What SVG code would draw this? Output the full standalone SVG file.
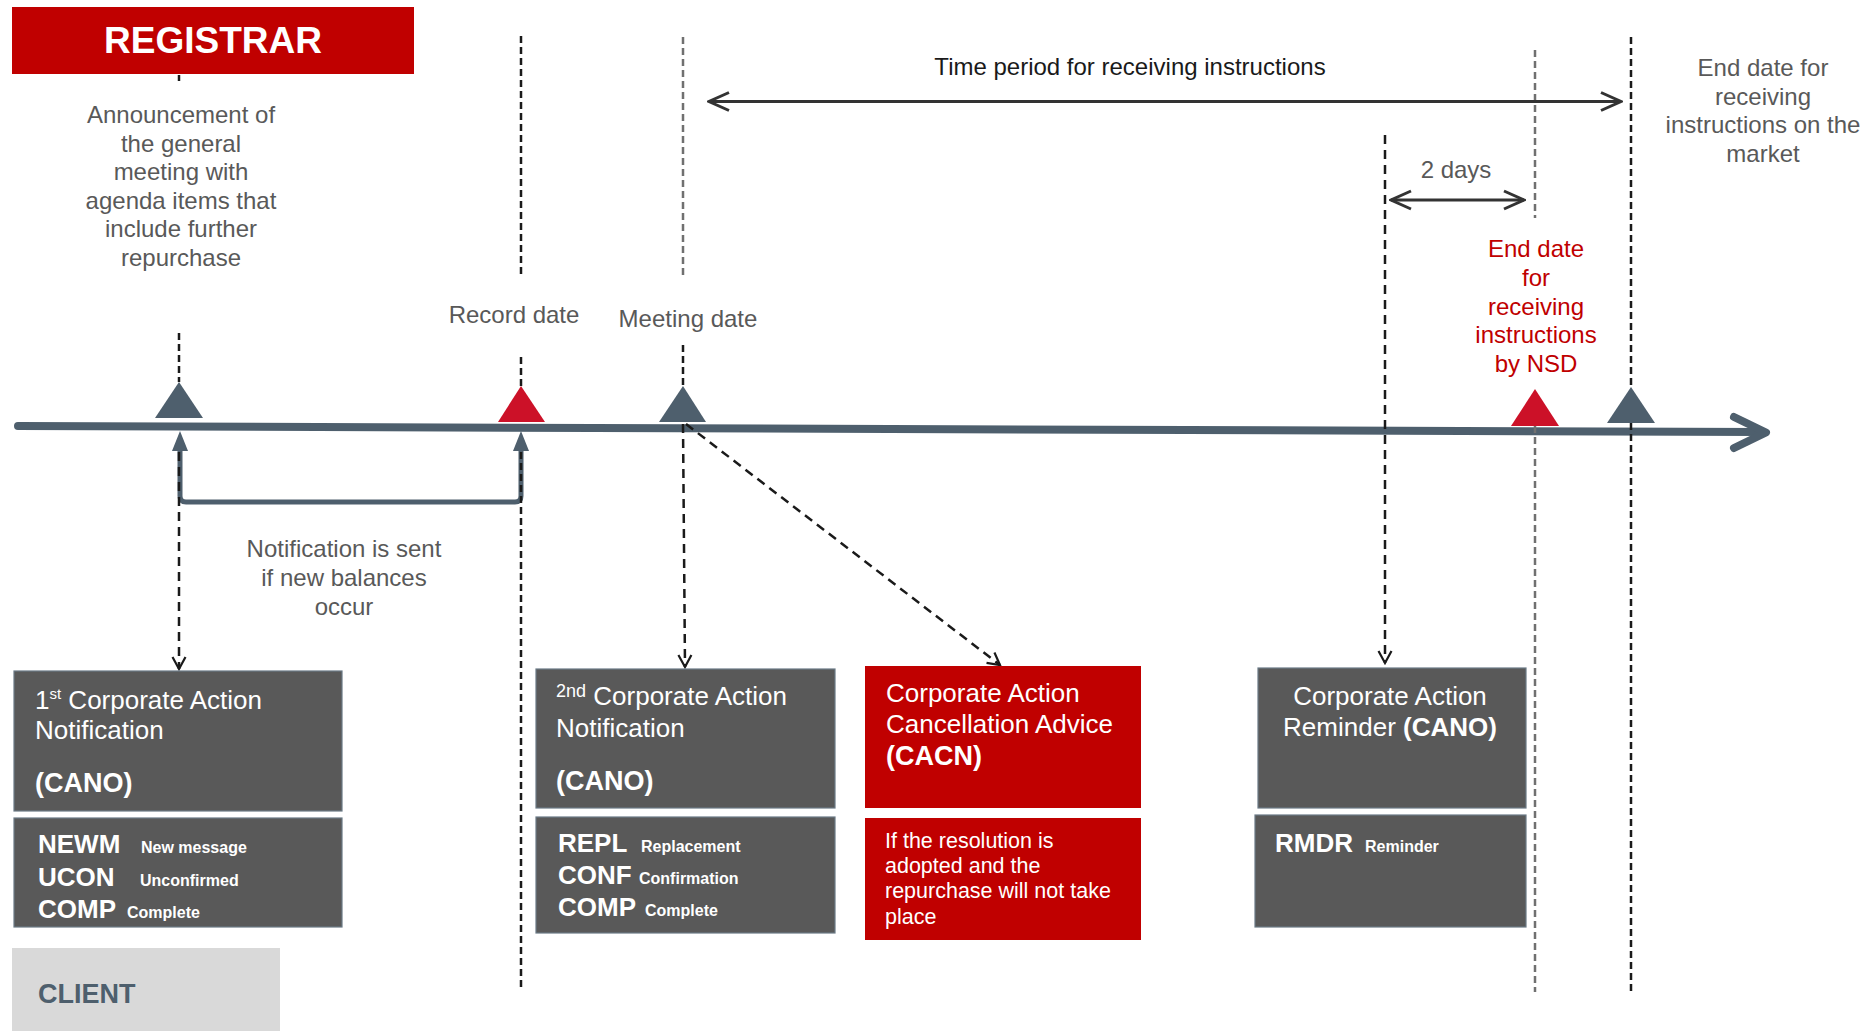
<svg xmlns="http://www.w3.org/2000/svg" width="1875" height="1031" viewBox="0 0 1875 1031">
<style>
text{font-family:"Liberation Sans",Arial,sans-serif}
.lbl{font-size:24px;fill:#595959;text-anchor:middle}
.blk{fill:#1a1a1a}
.red{fill:#c00000}
.wt{fill:#ffffff;font-size:26px}
.b{font-weight:bold;font-size:27px}
.sm{font-size:16px;font-weight:bold}
.big{font-size:26px;font-weight:bold}
.note{font-size:21.5px}
.gbox{fill:#595959;stroke:#6b7a86;stroke-width:1.2}
.rbox{fill:#c00000}
.vd{fill:none;stroke:#1a1a1a;stroke-width:2.5;stroke-dasharray:7 4}
.vg{stroke:#707070}
.ad{fill:none;stroke:#1a1a1a;stroke-width:2.5;stroke-dasharray:9 6}
.tl{fill:none;stroke:#4e5f6d;stroke-width:8;stroke-linecap:round;stroke-linejoin:round}
.tri{fill:#4e5f6d}
.trr{fill:#cc1128}
.span{fill:none;stroke:#333333;stroke-width:3}
</style>
<defs>
<marker id="open" viewBox="0 0 16 16" refX="14" refY="8" markerWidth="16" markerHeight="16" markerUnits="userSpaceOnUse" orient="auto">
<path d="M2,1.5 L14,8 L2,14.5" fill="none" stroke="#1a1a1a" stroke-width="2.2"/>
</marker>
<marker id="chev" viewBox="0 0 24 24" refX="22" refY="12" markerWidth="24" markerHeight="24" markerUnits="userSpaceOnUse" orient="auto-start-reverse">
<path d="M2,3 L22,12 L2,21" fill="none" stroke="#333333" stroke-width="3"/>
</marker>
</defs>

<g id="registrar">
<rect x="12" y="7" width="402" height="67" fill="#c00000"/>
<text x="213" y="53" text-anchor="middle" font-size="37" font-weight="bold" fill="#ffffff">REGISTRAR</text>
</g>

<g id="connectors">
<!-- timeline -->
<path class="tl" d="M18,426 L1762,432"/>
<path class="tl" d="M1734,417 L1766,432.5 L1734,448"/>
<!-- bracket -->
<path d="M180,448 L180,496 Q180,502 186,502 L515,502 Q521,502 521,496 L521,448" fill="none" stroke="#4e5f6d" stroke-width="5"/>
<polygon class="tri" points="180,431 172,451 188,451"/>
<polygon class="tri" points="521,431 513,451 529,451"/>
<!-- vertical date lines -->
<line class="vd" x1="179" y1="75" x2="179" y2="81"/>
<line class="vd" x1="179" y1="333" x2="179" y2="382"/>
<line class="vd" x1="521" y1="36" x2="521" y2="276"/>
<line class="vd" x1="521" y1="357" x2="521" y2="386"/>
<line class="vd" x1="521" y1="452" x2="521" y2="990"/>
<line class="vd vg" x1="683" y1="37" x2="683" y2="276"/>
<line class="vd" x1="683" y1="345" x2="683" y2="386"/>
<line class="vd vg" x1="1535" y1="50" x2="1535" y2="218"/>
<line class="vd vg" x1="1535" y1="426" x2="1535" y2="992"/>
<line class="vd" x1="1631" y1="37" x2="1631" y2="387"/>
<line class="vd" x1="1631" y1="423" x2="1631" y2="992"/>
<!-- dashed arrows -->
<line class="ad" x1="179" y1="452" x2="179" y2="669" marker-end="url(#open)"/>
<line class="ad" x1="683" y1="424" x2="685" y2="667" marker-end="url(#open)"/>
<line class="ad" x1="686" y1="424" x2="1000" y2="665" marker-end="url(#open)"/>
<line class="ad" x1="1385" y1="135" x2="1385" y2="663" marker-end="url(#open)"/>
<!-- span arrows -->
<line class="span" x1="709" y1="101.5" x2="1621" y2="101.5" marker-start="url(#chev)" marker-end="url(#chev)"/>
<line class="span" x1="1391" y1="200" x2="1524" y2="200" marker-start="url(#chev)" marker-end="url(#chev)"/>
</g>

<g id="markers">
<polygon class="tri" points="179,382 155,418 203,418"/>
<polygon class="trr" points="521,386 498,422 545,422"/>
<polygon class="tri" points="683,386 659,422 706,422"/>
<polygon class="trr" points="1535,389 1511,426 1559,426"/>
<polygon class="tri" points="1631,387 1607,423 1655,423"/>
</g>

<g id="announcement">
<text class="lbl"><tspan x="181" y="123">Announcement of</tspan><tspan x="181" y="151.5">the general</tspan><tspan x="181" y="180">meeting with</tspan><tspan x="181" y="208.5">agenda items that</tspan><tspan x="181" y="237">include further</tspan><tspan x="181" y="266">repurchase</tspan></text>
</g>
<g id="record-date"><text class="lbl" x="514" y="323">Record date</text></g>
<g id="meeting-date"><text class="lbl" x="688" y="327">Meeting date</text></g>
<g id="time-period"><text class="lbl blk" x="1130" y="75">Time period for receiving instructions</text></g>
<g id="two-days"><text class="lbl" x="1456" y="178">2 days</text></g>
<g id="market-end">
<text class="lbl"><tspan x="1763" y="76">End date for</tspan><tspan x="1763" y="105">receiving</tspan><tspan x="1763" y="133">instructions on the</tspan><tspan x="1763" y="162">market</tspan></text>
</g>
<g id="nsd-end">
<text class="lbl red"><tspan x="1536" y="257">End date</tspan><tspan x="1536" y="286">for</tspan><tspan x="1536" y="315">receiving</tspan><tspan x="1536" y="343">instructions</tspan><tspan x="1536" y="372">by NSD</tspan></text>
</g>
<g id="notification-note">
<text class="lbl"><tspan x="344" y="557">Notification is sent</tspan><tspan x="344" y="586">if new balances</tspan><tspan x="344" y="615">occur</tspan></text>
</g>

<g id="cano1">
<rect class="gbox" x="14" y="671" width="328" height="140"/>
<text class="wt" x="35" y="709">1<tspan font-size="15" dy="-10">st</tspan><tspan dy="10"> Corporate Action</tspan></text>
<text class="wt" x="35" y="739">Notification</text>
<text class="wt b" x="35" y="792">(CANO)</text>
<rect class="gbox" x="14" y="818" width="328" height="109"/>
<text class="wt big" x="38" y="853">NEWM</text><text class="wt sm" x="141" y="853">New message</text>
<text class="wt big" x="38" y="886">UCON</text><text class="wt sm" x="140" y="886">Unconfirmed</text>
<text class="wt big" x="38" y="918">COMP</text><text class="wt sm" x="127" y="918">Complete</text>
</g>

<g id="cano2">
<rect class="gbox" x="536" y="669" width="299" height="139"/>
<text class="wt" x="556" y="705"><tspan font-size="18" dy="-8">2nd</tspan><tspan dy="8"> Corporate Action</tspan></text>
<text class="wt" x="556" y="737">Notification</text>
<text class="wt b" x="556" y="790">(CANO)</text>
<rect class="gbox" x="536" y="817" width="299" height="116"/>
<text class="wt big" x="558" y="852">REPL</text><text class="wt sm" x="641" y="852">Replacement</text>
<text class="wt big" x="558" y="884">CONF</text><text class="wt sm" x="639" y="884">Confirmation</text>
<text class="wt big" x="558" y="916">COMP</text><text class="wt sm" x="645" y="916">Complete</text>
</g>

<g id="cacn">
<rect class="rbox" x="865" y="666" width="276" height="142"/>
<text class="wt" x="886" y="702">Corporate Action</text>
<text class="wt" x="886" y="733">Cancellation Advice</text>
<text class="wt b" x="886" y="765">(CACN)</text>
<rect class="rbox" x="865" y="818" width="276" height="122"/>
<text class="wt note"><tspan x="885" y="848">If the resolution is</tspan><tspan x="885" y="873">adopted and the</tspan><tspan x="885" y="898">repurchase will not take</tspan><tspan x="885" y="924">place</tspan></text>
</g>

<g id="reminder">
<rect class="gbox" x="1258" y="668" width="268" height="140"/>
<text class="wt" x="1390" y="705" text-anchor="middle">Corporate Action</text>
<text class="wt" x="1390" y="736" text-anchor="middle">Reminder <tspan font-weight="bold">(CANO)</tspan></text>
<rect class="gbox" x="1255" y="815" width="271" height="112"/>
<text class="wt big" x="1275" y="852">RMDR</text><text class="wt sm" x="1365" y="852">Reminder</text>
</g>

<g id="client">
<rect x="12" y="948" width="268" height="83" fill="#d9d9d9"/>
<text x="38" y="1003" font-size="27" font-weight="bold" fill="#4e5f6d">CLIENT</text>
</g>
</svg>
